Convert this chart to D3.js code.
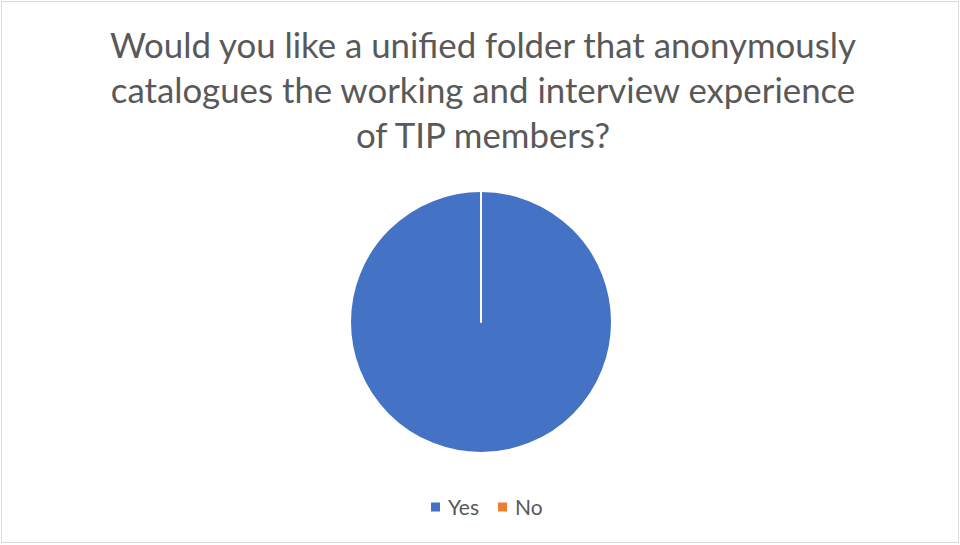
<!DOCTYPE html>
<html><head><meta charset="utf-8">
<script src="https://cdn.jsdelivr.net/npm/d3@7"></script>
<style>
html,body{margin:0;padding:0;background:#fff;}
svg{display:block;font-family:Lato,"Open Sans",sans-serif;}
</style></head>
<body>
<svg id="chart" width="960" height="545"></svg>
<script>
const titleLines = ["Would you like a unified folder that anonymously", "catalogues the working and interview experience", "of TIP members?"];
const categories = ["Yes", "No"];
const values = [100, 0];
const colors = ["#4472C4", "#ED7D31"];

const svg = d3.select("#chart");
svg.append("rect").attr("x", 1.5).attr("y", 1.5).attr("width", 957).attr("height", 541)
  .attr("fill", "#fff").attr("stroke", "#d9d9d9").attr("stroke-width", 1);

const title = svg.append("text").attr("text-anchor", "middle").attr("fill", "#595959")
  .attr("font-size", 34.8);
titleLines.forEach((t, i) => {
  title.append("tspan").attr("x", 483).attr("y", 58 + i * 45).text(t);
});

const data = categories.map((c, i) => ({cat: c, value: values[i]}));
const pie = d3.pie().sort(null).value(d => d.value);
const arc = d3.arc().innerRadius(0).outerRadius(131);
const color = d3.scaleOrdinal().domain(categories).range(colors);

const g = svg.append("g").attr("transform", "translate(481,322)");
g.selectAll("path").data(pie(data)).join("path")
  .attr("d", arc)
  .attr("fill", d => color(d.data.cat))
  .attr("stroke", "#fff").attr("stroke-width", 2).attr("stroke-linejoin", "round");

// legend
const legend = svg.append("g").attr("transform", "translate(0,507)");
const legX = [431, 498];
categories.forEach((c, i) => {
  const lg = legend.append("g").attr("transform", `translate(${legX[i]},0)`);
  lg.append("rect").attr("x", 0).attr("y", -4.5).attr("width", 9).attr("height", 9).attr("fill", color(c));
  lg.append("text").attr("x", 17).attr("y", 0).attr("dy", "0.36em").attr("fill", "#595959")
    .attr("font-size", 21).text(c);
});
</script>
</body></html>
